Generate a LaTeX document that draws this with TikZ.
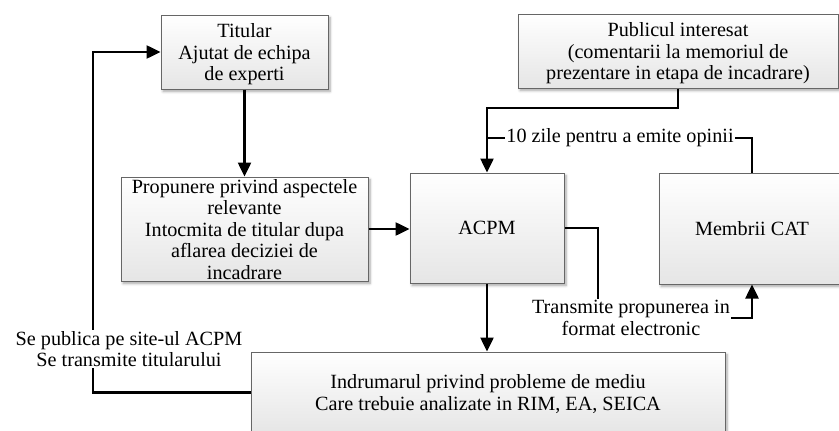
\documentclass[tikz,border=0pt]{standalone}
\usepackage{fontspec}
\setmainfont{Liberation Serif}
\usetikzlibrary{arrows.meta,shadows.blur}
\begin{document}
\begin{tikzpicture}[x=1pt,y=1pt,
  font=\fontsize{20.2}{21.5}\selectfont,
  box/.style={draw=black!60, line width=1pt, align=center, inner sep=1pt,
    text depth=0pt, top color=white, bottom color=black!10,
    blur shadow={shadow xshift=2pt, shadow yshift=-2.5pt, shadow blur steps=6,
      shadow blur radius=2.5pt, shadow opacity=35}},
  conn/.style={line width=2.5pt, line join=miter},
  arr/.style={conn, -{Triangle[length=14pt,width=13pt]}},
  lab/.style={fill=white, align=center, inner sep=1pt}]
\path[use as bounding box, clip] (0,0) rectangle (839,-431);

% boxes
\node[box, minimum width=167pt, minimum height=74pt] (tit) at (244.5,-52)
  {Titular\\Ajutat de echipa\\de experti};
\node[box, minimum width=320pt, minimum height=74pt] (pub) at (678,-51)
  {Publicul interesat\\(comentarii la memoriul de\\prezentare in etapa de incadrare)};
\node[box, minimum width=247pt, minimum height=104pt] (prop) at (244.5,-229)
  {Propunere privind aspectele\\relevante\\Intocmita de titular dupa\\aflarea deciziei de\\incadrare};
\node[box, minimum width=154pt, minimum height=110pt] (acpm) at (487,-228) {ACPM};
\node[box, minimum width=186pt, minimum height=111pt] (cat) at (752,-228.5) {Membrii CAT};
\node[box, minimum width=474pt, minimum height=81pt] (ind) at (488,-392.5)
  {Indrumarul privind probleme de mediu\\Care trebuie analizate in RIM, EA, SEICA};

% junction points
\coordinate (pubturn) at (678,-108);
\coordinate (catturn) at (752,-138);
\coordinate (acpmturn) at (598,-228);
\coordinate (trturn) at (598,-318);
\coordinate (indturn) at (93,-392.5);
\coordinate (titturn) at (93,-52);

% connectors
\draw[arr] (tit.south) -- (prop.north);
\draw[arr] (prop.east) -- (prop.east -| acpm.west);
\draw[arr] (pub.south -| pubturn) -- (pubturn) -| (acpm.north);
\draw[conn] (cat.north) -- (catturn) -- (catturn -| acpm.north);
\draw[arr] (acpm.south) -- (acpm.south |- ind.north);
\draw[arr] (acpm.east) -- (acpmturn) -- (trturn) -| (cat.south);
\draw[arr] (ind.west) -- (indturn) -- (titturn) -- (tit.west);

% connector labels
\node[lab] (l10) at (620,-138) {10 zile pentru a emite opinii};
\node[lab] (ltr) at (631,-318) {Transmite propunerea in\\format electronic};
\node[lab] (lpub) at (129,-349) {Se publica pe site-ul ACPM\\Se transmite titularului};
\end{tikzpicture}
\end{document}
